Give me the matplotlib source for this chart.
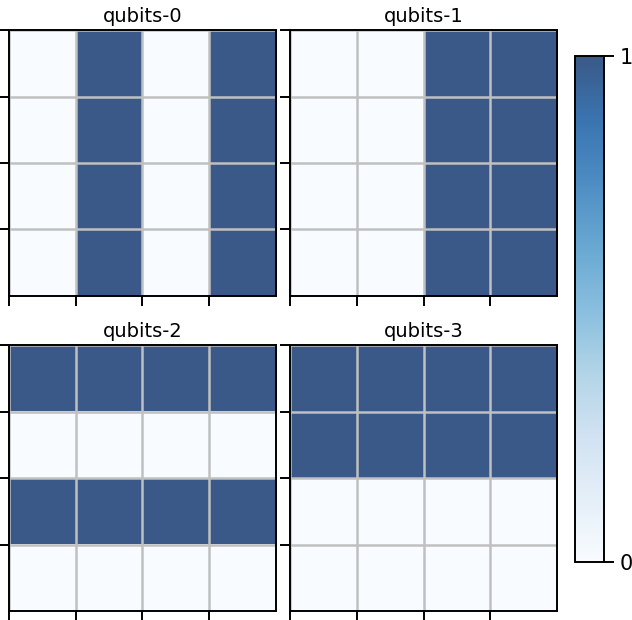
import matplotlib.pyplot as plt
import numpy as np

# --- Data: qubit basis patterns on a 4x4 grid ---
titles = ['qubits-0', 'qubits-1', 'qubits-2', 'qubits-3']
qubits_0 = [[0, 1, 0, 1],
            [0, 1, 0, 1],
            [0, 1, 0, 1],
            [0, 1, 0, 1]]
qubits_1 = [[0, 0, 1, 1],
            [0, 0, 1, 1],
            [0, 0, 1, 1],
            [0, 0, 1, 1]]
qubits_2 = [[1, 1, 1, 1],
            [0, 0, 0, 0],
            [1, 1, 1, 1],
            [0, 0, 0, 0]]
qubits_3 = [[1, 1, 1, 1],
            [1, 1, 1, 1],
            [0, 0, 0, 0],
            [0, 0, 0, 0]]
grids = [qubits_0, qubits_1, qubits_2, qubits_3]
cbar_ticks = [0, 1]

fig = plt.figure(figsize=(6.32, 6.2), dpi=100)

# axes positions in figure fraction (left, bottom, width, height)
positions = [
    [0.0142, 0.5226, 0.4225, 0.429],
    [0.4589, 0.5226, 0.4225, 0.429],
    [0.0142, 0.0145, 0.4225, 0.429],
    [0.4589, 0.0145, 0.4225, 0.429],
]

for grid, title, pos in zip(grids, titles, positions):
    ax = fig.add_axes(pos)
    im = ax.imshow(np.array(grid), cmap='Blues', vmin=0, vmax=1, alpha=0.8,
                   interpolation='nearest', aspect='auto')
    ax.set_title(title, fontsize=14, pad=6)
    edges = np.arange(-0.5, 3, 1)
    ax.set_xticks(edges)
    ax.set_yticks(edges)
    ax.set_xticklabels([])
    ax.set_yticklabels([])
    ax.grid(True, color='#c0c0c0', linewidth=1.8)
    ax.tick_params(length=7, width=1.4)
    for s in ax.spines.values():
        s.set_linewidth(1.4)

cax = fig.add_axes([0.9098, 0.0935, 0.0459, 0.8161])
cb = fig.colorbar(im, cax=cax, ticks=cbar_ticks)
cb.ax.tick_params(labelsize=15, length=7, width=1.4, pad=4)
cb.outline.set_linewidth(1.4)

plt.savefig('out.png', dpi=100)
